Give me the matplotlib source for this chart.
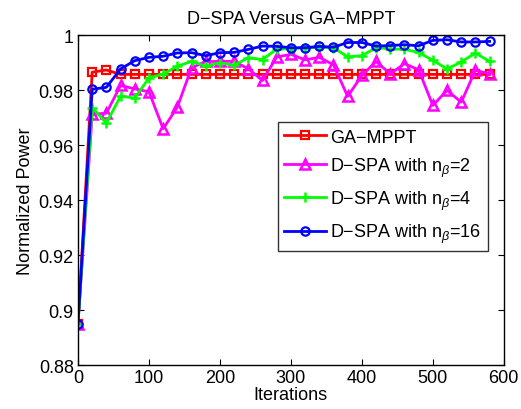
import matplotlib
matplotlib.use("Agg")
import matplotlib.pyplot as plt
from matplotlib.ticker import FuncFormatter

plt.rcParams['font.family'] = ['Liberation Sans', 'DejaVu Sans']
plt.rcParams['mathtext.fontset'] = 'custom'
plt.rcParams['mathtext.rm'] = 'Liberation Sans'
plt.rcParams['mathtext.it'] = 'Liberation Sans:italic'

iterations = list(range(0, 600, 20))

ga_mppt = [0.895, 0.9865, 0.9873] + [0.9857] * 27

dspa_2 = [0.895, 0.9712, 0.9716, 0.9817, 0.9804, 0.9794, 0.9659, 0.9738,
          0.9881, 0.9904, 0.9904, 0.9905, 0.9877, 0.9835, 0.9920, 0.9930,
          0.9910, 0.9919, 0.9892, 0.9777, 0.9853, 0.9904, 0.9859, 0.9896,
          0.9874, 0.9744, 0.9799, 0.9756, 0.9872, 0.9859]

dspa_4 = [0.895, 0.9736, 0.9680, 0.9778, 0.9771, 0.9844, 0.9858, 0.9887,
          0.9904, 0.9887, 0.9899, 0.9890, 0.9918, 0.9911, 0.9949, 0.9951,
          0.9954, 0.9955, 0.9954, 0.9921, 0.9925, 0.9954, 0.9950, 0.9948,
          0.9937, 0.9908, 0.9877, 0.9902, 0.9935, 0.9904]

dspa_16 = [0.895, 0.9803, 0.9810, 0.9877, 0.9907, 0.9919, 0.9923, 0.9935,
           0.9936, 0.9925, 0.9936, 0.9937, 0.9948, 0.9960, 0.9959, 0.9954,
           0.9954, 0.9959, 0.9956, 0.9973, 0.9973, 0.9960, 0.9962, 0.9965,
           0.9961, 0.9981, 0.9983, 0.9975, 0.9975, 0.9977]

x_ticks = [0, 100, 200, 300, 400, 500, 600]
y_ticks = [0.88, 0.9, 0.92, 0.94, 0.96, 0.98, 1.0]

fs = 13

fig = plt.figure(figsize=(5.21, 4.10), dpi=100)
ax = fig.add_axes([0.1497, 0.1073, 0.967 - 0.1497, 0.912 - 0.1073])

lw = 2
ax.plot(iterations, ga_mppt, color='#ff0000', lw=lw, marker='s', ms=6,
        mfc='none', mew=1.6, label='GA\u2212MPPT')
ax.plot(iterations, dspa_2, color='#ff00ff', lw=lw, marker='^', ms=7.5,
        mfc='none', mew=1.8, label='D\u2212SPA with n$_\\beta$=2')
ax.plot(iterations, dspa_4, color='#00ff00', lw=lw, marker='+', ms=7,
        mew=1.8, label='D\u2212SPA with n$_\\beta$=4')
ax.plot(iterations, dspa_16, color='#0000ff', lw=lw, marker='o', ms=6,
        mfc='none', mew=1.6, label='D\u2212SPA with n$_\\beta$=16')

ax.set_xlim(0, 600)
ax.set_ylim(0.88, 1.0)
ax.set_xticks(x_ticks)
ax.set_yticks(y_ticks)
ax.yaxis.set_major_formatter(FuncFormatter(lambda v, p: f"{v:g}"))
ax.tick_params(direction='in', top=True, right=True, labelsize=fs,
               length=4, width=0.8, pad=3)
for s in ax.spines.values():
    s.set_linewidth(1.0)

ax.set_title('D\u2212SPA Versus GA\u2212MPPT', fontsize=fs, pad=9)
ax.set_xlabel('Iterations', fontsize=fs, labelpad=0)
ax.set_ylabel('Normalized Power', fontsize=fs, labelpad=3)

leg = ax.legend(loc='upper right', bbox_to_anchor=(0.962, 0.736),
                fontsize=fs, frameon=True, fancybox=False,
                edgecolor='black', handlelength=2.3, labelspacing=0.55,
                borderpad=0.35, handletextpad=0.25, borderaxespad=0)
leg.get_frame().set_linewidth(1.0)

fig.savefig('out.png', dpi=100)
